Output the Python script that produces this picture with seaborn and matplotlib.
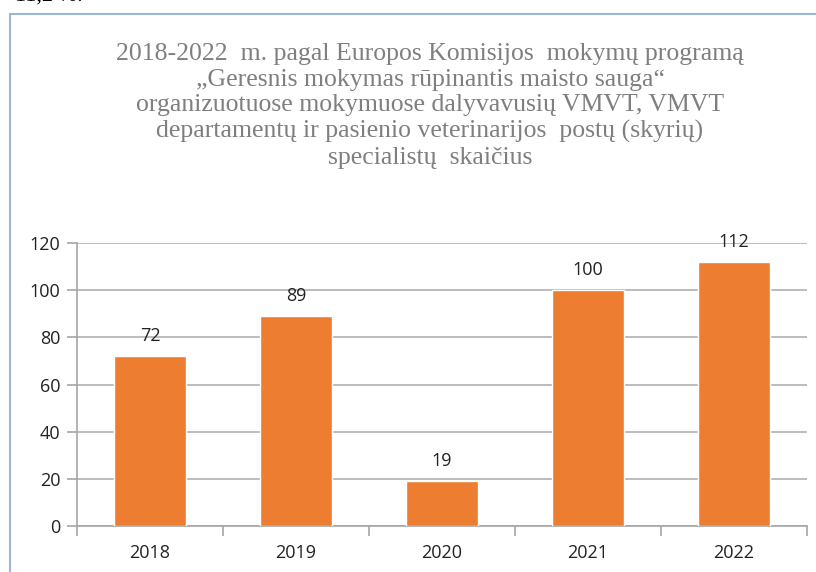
import matplotlib
matplotlib.use("Agg")
import matplotlib.pyplot as plt
import seaborn as sns
import pandas as pd
from matplotlib.patches import Rectangle

years = ["2018", "2019", "2020", "2021", "2022"]
values = [72, 89, 19, 100, 112]
yticks = [0, 20, 40, 60, 80, 100, 120]
title_lines = [
    "2018-2022  m. pagal Europos Komisijos  mokymų programą",
    "„Geresnis mokymas rūpinantis maisto sauga“",
    "organizuotuose mokymuose dalyvavusių VMVT, VMVT",
    "departamentų ir pasienio veterinarijos  postų (skyrių)",
    "specialistų  skaičius",
]

df = pd.DataFrame({"year": years, "value": values})

sns.set_theme(style="white")
plt.rcParams["font.family"] = ["Open Sans", "DejaVu Sans"]

W, H = 816, 572
fig = plt.figure(figsize=(W / 100, H / 100), dpi=100)
fig.patch.set_facecolor("white")

# frame
fig.patches.append(Rectangle((10 / W, -0.1), 1.2, (H - 14) / H + 0.1,
                             transform=fig.transFigure, fill=False,
                             edgecolor="#9db4d6", linewidth=1.5))
# cut-off text at the top
fig.text(15 / W, 1.0 + 4 / H, "11,2 %.", ha="left", va="center",
         fontsize=16, color="black", family=["Liberation Serif"])

ax = fig.add_axes([77 / W, (H - 526) / H, (807 - 77) / W, (526 - 243) / H])
sns.barplot(data=df, x="year", y="value", color="#ed7d31", saturation=1,
            width=0.49, ax=ax, zorder=3)

ax.set_ylim(0, 120)
ax.set_xlim(-0.5, len(years) - 0.5)
ax.set_yticks(yticks)
ax.yaxis.grid(True, color="#b0b0b0", linewidth=1.2, zorder=0)
ax.set_axisbelow(True)
for s in ["top", "right"]:
    ax.spines[s].set_visible(False)
for s in ["left", "bottom"]:
    ax.spines[s].set_color("#a6a6a6")
    ax.spines[s].set_linewidth(1.2)
ax.set_xlabel("")
ax.set_ylabel("")
ax.tick_params(axis="y", which="both", left=True, length=7, width=1.2,
               color="#a6a6a6", labelsize=13, labelcolor="#222222", pad=5)
ax.set_xticks([i - 0.5 for i in range(len(years) + 1)], minor=False)
ax.set_xticklabels([])
ax.set_xticks(range(len(years)), minor=True)
ax.set_xticklabels(years, minor=True)
ax.tick_params(axis="x", which="major", bottom=True, length=7, width=1.2,
               color="#a6a6a6")
ax.tick_params(axis="x", which="minor", bottom=False, labelsize=13,
               labelcolor="#222222", pad=9)

for c in ax.containers:
    ax.bar_label(c, labels=[str(v) for v in values], padding=8,
                 fontsize=13, color="#222222", zorder=1)

fig.text(430 / W, (H - 106) / H, "\n".join(title_lines), ha="center", va="center",
         fontsize=18.5, color="#7f7f7f", family=["Liberation Serif"],
         linespacing=1.22)

fig.savefig("out.png", dpi=100)
